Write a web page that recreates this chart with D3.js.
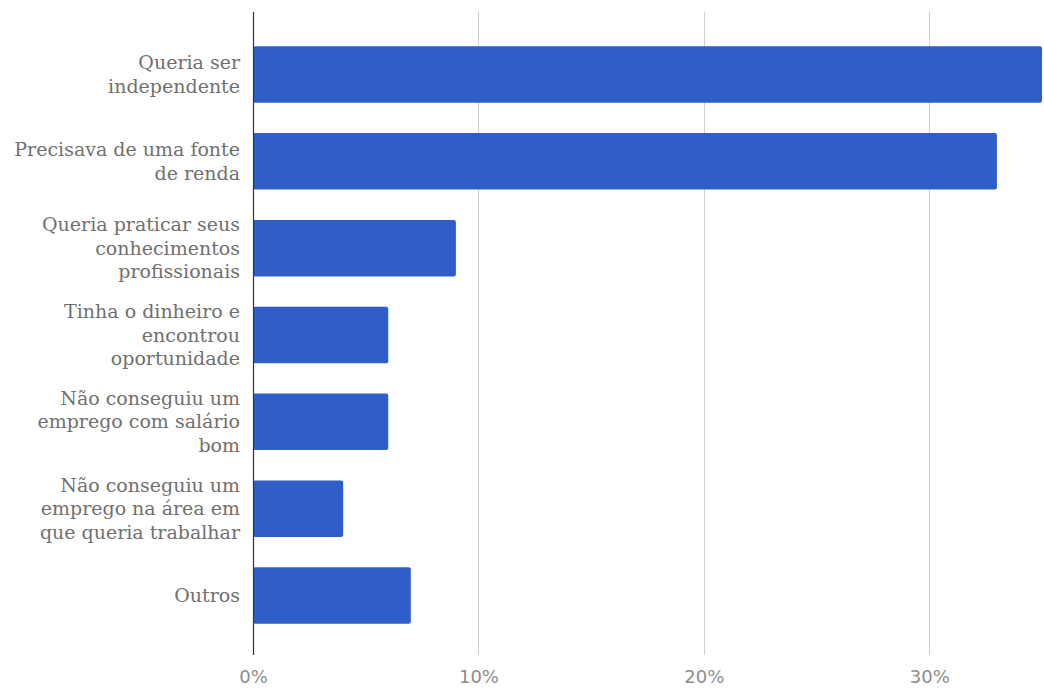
<!DOCTYPE html>
<html>
<head>
<meta charset="utf-8">
<script src="https://cdn.jsdelivr.net/npm/d3@7"></script>
<style>
body { margin: 0; background: #fff; }
.cat { font-family: "DejaVu Serif", serif; font-size: 19px; fill: #707070; }
.tick text { font-family: "DejaVu Sans", sans-serif; font-size: 18px; fill: #8c8c8c; }
</style>
</head>
<body>
<div id="chart"></div>
<script>
var categories = [
  ["Queria ser", "independente"],
  ["Precisava de uma fonte", "de renda"],
  ["Queria praticar seus", "conhecimentos", "profissionais"],
  ["Tinha o dinheiro e", "encontrou", "oportunidade"],
  ["Não conseguiu um", "emprego com salário", "bom"],
  ["Não conseguiu um", "emprego na área em", "que queria trabalhar"],
  ["Outros"]
];
var values = [35, 33, 9, 6, 6, 4, 7];
var ticks = [0, 10, 20, 30];

function drawChart()
{
var width = 1044, height = 695;
var mLeft = 253, mRight = 1042, mTop = 12, mBottom = 655;

var svg = d3.select("#chart").append("svg").attr("width", width).attr("height", height);

var x = d3.scaleLinear().domain([0, 35]).range([mLeft, mRight]);
var y = d3.scaleBand().domain(d3.range(categories.length)).range([15, mBottom])
  .paddingInner(0.35).paddingOuter(0.36);

// gridlines
svg.selectAll("line.grid").data(ticks.slice(1)).enter().append("line")
  .attr("class", "grid")
  .attr("x1", function(d) { return Math.round(x(d)) + 0.5; })
  .attr("x2", function(d) { return Math.round(x(d)) + 0.5; })
  .attr("y1", mTop).attr("y2", mBottom)
  .attr("stroke", "#d0d0d0").attr("stroke-width", 1);

// bars
svg.selectAll("rect.bar").data(values).enter().append("rect")
  .attr("class", "bar")
  .attr("x", x(0))
  .attr("y", function(d, i) { return y(i); })
  .attr("width", function(d) { return x(d) - x(0); })
  .attr("height", y.bandwidth())
  .attr("rx", 2)
  .attr("fill", "#2f5ec8");

// axis line
svg.append("line")
  .attr("x1", mLeft + 0.5).attr("x2", mLeft + 0.5)
  .attr("y1", mTop).attr("y2", mBottom)
  .attr("stroke", "#333").attr("stroke-width", 1.2);

// x tick labels
var xAxis = d3.axisBottom(x).tickValues(ticks).tickSize(0).tickPadding(0)
  .tickFormat(function(d) { return d + "%"; });
svg.append("g").attr("transform", "translate(0," + 670 + ")").call(xAxis)
  .call(function(g) { g.select(".domain").remove(); })
  .selectAll("text").attr("dy", "0.71em");

// category labels
var lh = 23.5;
svg.selectAll("text.cat").data(categories).enter().append("text")
  .attr("class", "cat")
  .attr("text-anchor", "end")
  .each(function(lines, i) {
    var cy = y(i) + y.bandwidth() / 2;
    var y0 = cy - (lines.length - 1) * lh / 2;
    d3.select(this).selectAll("tspan").data(lines).enter().append("tspan")
      .attr("x", 240)
      .attr("y", function(d, j) { return y0 + j * lh; })
      .attr("dy", "0.35em")
      .text(function(d) { return d; });
  });
}
drawChart();
</script>
</body>
</html>
